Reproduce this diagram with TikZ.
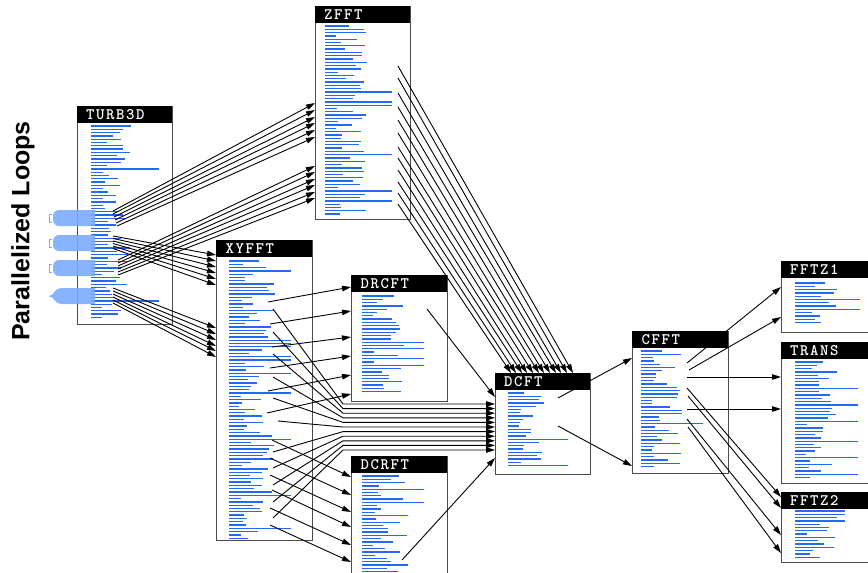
\documentclass[tikz,border=0pt]{standalone}
\usepackage{fontspec}
\newfontfamily\plfont{Liberation Sans}
\newfontfamily\hdfont{lmmonolt10-bold}[Extension=.otf, LetterSpace=10]
\usetikzlibrary{arrows.meta,calc}
\definecolor{codeblue}{RGB}{35,105,245}
\definecolor{loopblue}{RGB}{120,170,255}
\definecolor{boxgray}{RGB}{75,75,75}
\tikzset{
  boxbody/.style={draw=boxgray, line width=1.4pt, fill=white, inner sep=0pt, anchor=north west},
  boxhead/.style={fill=black, inner ysep=0pt, inner xsep=9pt, anchor=north west, minimum height=17pt,
    text width=77pt, align=left, text=white, font=\hdfont\fontsize{16}{16}\selectfont},
  code/.style={draw=codeblue, line width=1.3pt},
  arr/.style={draw=black, line width=0.9pt, -{Triangle[length=9pt,width=5.5pt]}},
  loopblob/.style={fill=loopblue, opacity=0.88},
}
\newcommand\mkbox[6]{%
  \node[boxbody, minimum width=#4pt, minimum height=#5pt] (#1) at (#2,#3) {};
  \node[boxhead, minimum width=#4pt] (#1h) at (#2,#3) {#6};
}
\newcommand\codelines[7]{%
  \pgfmathsetseed{#1}%
  \foreach \k in {0,...,#4}{%
    \pgfmathsetmacro\yy{#3+3.3*\k}%
    \pgfmathsetmacro\rr{rnd}%
    \pgfmathsetmacro\ll{\rr>0.9 ? #7 : (#5+(#6-#5)*rnd)}%
    \draw[code] (#2,\yy) -- ++(\ll,0);
  }}
\begin{document}
\begin{tikzpicture}[x=1pt,y=-1pt]
\useasboundingbox (0,0) rectangle (868,573);

% boxes
\mkbox{turb}{77}{106}{95}{218}{TURB3D}
\mkbox{zfft}{315}{6}{95}{213}{ZFFT}
\mkbox{xyfft}{216}{240}{96}{300}{XYFFT}
\mkbox{drcft}{351}{275}{96}{126}{DRCFT}
\mkbox{dcrft}{351}{456}{96}{130}{DCRFT}
\mkbox{dcft}{495}{373}{95}{101}{DCFT}
\mkbox{cfft}{632}{331}{96}{142}{CFFT}
\mkbox{fftza}{781}{261}{95}{71}{FFTZ1}
\mkbox{trans}{781}{342}{95}{141}{TRANS}
\mkbox{fftzb}{781}{492}{95}{70}{FFTZ2}

% code lines
\codelines{11}{91}{126}{58}{10}{42}{68}
\codelines{12}{325}{26}{57}{10}{42}{67}
\codelines{13}{229}{261}{84}{10}{46}{62}
\codelines{14}{362}{296}{29}{10}{44}{62}
\codelines{15}{362}{476}{30}{10}{46}{62}
\codelines{16}{508}{393}{22}{8}{42}{60}
\codelines{17}{641}{351}{35}{10}{42}{62}
\codelines{18}{795}{283}{12}{14}{48}{65}
\codelines{19}{795}{362}{35}{10}{42}{63}
\codelines{20}{795}{511}{14}{10}{42}{50}

% parallelized loop markers
\fill[loopblob, rounded corners=6pt] (95,226) -- (53,226) -- (53,210) [sharp corners] -- (95,210) -- cycle;
\fill[loopblob, rounded corners=6pt] (95,251) -- (53,251) -- (53,235) [sharp corners] -- (95,235) -- cycle;
\fill[loopblob, rounded corners=6pt] (95,276) -- (53,276) -- (53,260) [sharp corners] -- (95,260) -- cycle;
\fill[loopblob, rounded corners=5pt] (95,304) -- (56,304) -- (53,296) [sharp corners] -- (49,296) -- (53,294) [rounded corners=5pt] -- (56,288) [sharp corners] -- (95,288) -- cycle;
\foreach \yy in {214,239,264}{
  \draw[loopblue, line width=0.6pt] (52,\yy) -- (49,\yy) -- (49,\yy+8) -- (52,\yy+8);
}

\node[rotate=90, font=\plfont\bfseries\fontsize{25}{25}\selectfont] (pl) at (23,231) {Parallelized Loops};

% TURB3D -> ZFFT
\foreach \sx/\sy/\ty [count=\i] in {113/211/103,113/214/110,114/217/117,115/220/123,116/223/130,117/226/137}{
  \coordinate (ta\i) at (\sx,\sy);
  \draw[arr] (ta\i) -- (zfft.west |- 0,\ty);
}
\foreach \sy/\ty [count=\i] in {260/166,263/172,266/179,269/185,272/192,275/198}{
  \coordinate (tb\i) at (118,\sy);
  \draw[arr] (tb\i) -- (zfft.west |- 0,\ty);
}
% TURB3D -> XYFFT
\foreach \sy/\ty [count=\i] in {236/255,238.5/261,241/267,243.5/273,246/279,248.5/285}{
  \coordinate (tc\i) at (113,\sy);
  \draw[arr] (tc\i) -- (xyfft.west |- 0,\ty);
}
\foreach \sy/\ty [count=\i] in {288/328,291/334,294/340,297/346,300/351,303/357}{
  \coordinate (td\i) at (113,\sy);
  \draw[arr] (td\i) -- (xyfft.west |- 0,\ty);
}
% ZFFT -> DCFT
\foreach \sy/\tx [count=\i] in {66/573,78/567,93/561,107/556,120/550,133/544,147/539,158/533,170/527,182/522,193/516,204/511}{
  \coordinate (za\i) at (398,\sy);
  \draw[arr] (za\i) -- (\tx,0 |- dcft.north);
}
% XYFFT -> DRCFT
\foreach \sx/\sy/\ty [count=\i] in {268/302/287,270/324/311,272/347/337,270/368/356,268/391/375,267/413/394}{
  \coordinate (xa\i) at (\sx,\sy);
  \draw[arr] (xa\i) -- (drcft.west |- 0,\ty);
}
% XYFFT -> DCFT (bundle)
\foreach \sx/\sy/\ty [count=\i] in {273/309/404,273/332/408.6,273/354/413.2,273/377/417.8,273/398/422.4,278/421/427,
  273/452/431.6,273/468/436.2,273/485/440.8,273/502/445.4,273/518/450}{
  \coordinate (xb\i) at (\sx,\sy);
  \draw[arr] (xb\i) -- (343,\ty) -- (dcft.west |- 0,\ty);
}
% XYFFT -> DCRFT
\foreach \sx/\sy/\ty [count=\i] in {272/440/477,270/458/495,270/475/512,272/490/527,270/508/545,270/525/562}{
  \coordinate (xc\i) at (\sx,\sy);
  \draw[arr] (xc\i) -- (dcrft.west |- 0,\ty);
}
% DRCFT / DCRFT -> DCFT
\coordinate (dr1) at (427,309);
\draw[arr] (dr1) -- (dcft.west |- 0,397);
\coordinate (dc1) at (402,560);
\draw[arr] (dc1) -- (dcft.west |- 0,458);
% DCFT -> CFFT
\coordinate (d1) at (558,398);
\coordinate (d2) at (558,426);
\draw[arr] (d1) -- (cfft.west |- 0,358);
\draw[arr] (d2) -- (cfft.west |- 0,466);
% CFFT -> FFTZ1, TRANS, FFTZ2
\coordinate (c1) at (687,363);
\coordinate (c2) at (689,370);
\coordinate (c3) at (687,377);
\coordinate (c4) at (687,388);
\coordinate (c5) at (688,396);
\coordinate (c6) at (687,409);
\coordinate (c7) at (687,419);
\coordinate (c8) at (688,427);
\draw[arr] (c1) -- (fftza.west |- 0,287);
\draw[arr] (c2) -- (fftza.west |- 0,317);
\draw[arr] (c3) -- (trans.west |- 0,377);
\draw[arr] (c6) -- (trans.west |- 0,409);
\draw[arr] (c4) -- (fftzb.west |- 0,497);
\draw[arr] (c5) -- (fftzb.west |- 0,508);
\draw[arr] (c7) -- (fftzb.west |- 0,535);
\draw[arr] (c8) -- (fftzb.west |- 0,553);
\end{tikzpicture}
\end{document}
